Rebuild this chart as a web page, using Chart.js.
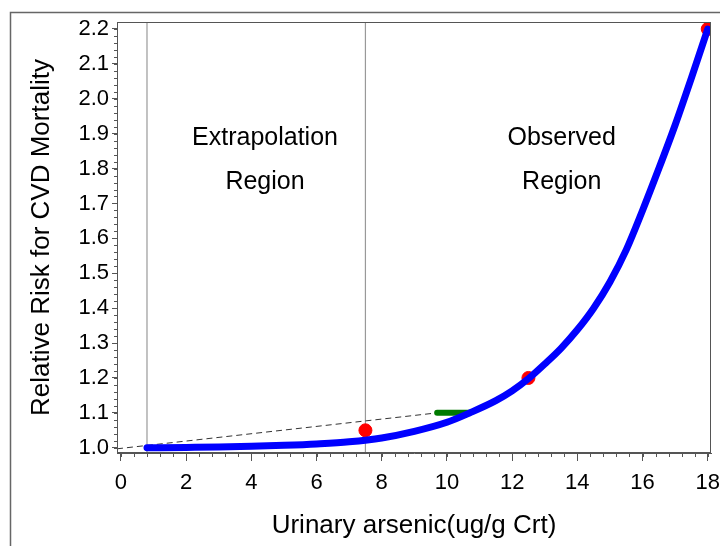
<!DOCTYPE html>
<html>
<head>
<meta charset="utf-8">
<script src="https://cdn.jsdelivr.net/npm/chart.js@4/dist/chart.umd.min.js"></script>
<style>
  html, body { margin: 0; padding: 0; background: #fff; }
  canvas { display: block; }
</style>
</head>
<body>
<canvas id="chart" width="720" height="546"></canvas>
<script>
// Fitted relative risk curve
const curveX = [0.8, 2, 3, 4, 5, 6, 7, 8, 9, 10, 10.7, 11.5, 12, 12.5, 13, 13.5, 14, 14.5, 15, 15.5, 16, 16.5, 17, 17.5, 18];
const curveY = [1.0, 1.001, 1.002, 1.004, 1.007, 1.011, 1.017, 1.028, 1.047, 1.073, 1.1, 1.135, 1.163, 1.198, 1.24, 1.285, 1.338, 1.4, 1.475, 1.567, 1.68, 1.8, 1.925, 2.06, 2.2];

// Red points
const pointX = [7.5, 12.5, 18];
const pointY = [1.05, 1.2, 2.2];

// Linear extrapolation (dashed) and green segment
const dashX = [-0.12, 9.7];
const dashY = [0.997, 1.1];
const segX = [9.7, 10.7];
const segY = [1.1, 1.1];

// Region boundaries
const regionX = [0.8, 7.5];

// Axes
const xMin = -0.12, xMax = 18.1;
const yMin = 0.985, yMax = 2.22;
const xTicks = [0, 2, 4, 6, 8, 10, 12, 14, 16, 18];
const xTickLabels = ['0', '2', '4', '6', '8', '10', '12', '14', '16', '18'];
const yTicks = [1.0, 1.1, 1.2, 1.3, 1.4, 1.5, 1.6, 1.7, 1.8, 1.9, 2.0, 2.1, 2.2];
const yTickLabels = ['1.0', '1.1', '1.2', '1.3', '1.4', '1.5', '1.6', '1.7', '1.8', '1.9', '2.0', '2.1', '2.2'];

const regionLabels = [
    { text: 'Extrapolation', x: 4.42, y: 1.887 },
    { text: 'Region', x: 4.42, y: 1.761 },
    { text: 'Observed', x: 13.52, y: 1.887 },
    { text: 'Region', x: 13.52, y: 1.761 }
];

const FONT = '"Liberation Sans", Arial, Helvetica, sans-serif';
const toPts = (xs, ys) => xs.map((x, i) => ({ x: x, y: ys[i] }));

const framePlugin = {
    id: 'frame',
    beforeDraw(chart) {
        const ctx = chart.ctx;
        ctx.save();
        ctx.fillStyle = '#fff';
        ctx.fillRect(0, 0, chart.width, chart.height);
        // outer frame (runs off the right and bottom edges)
        ctx.strokeStyle = '#666';
        ctx.lineWidth = 1.5;
        ctx.beginPath();
        ctx.moveTo(10.5, chart.height);
        ctx.lineTo(10.5, 12.5);
        ctx.lineTo(chart.width, 12.5);
        ctx.stroke();
        ctx.restore();
    },
    afterDraw(chart) {
        const { ctx, chartArea: a, scales: { x, y } } = chart;
        ctx.save();
        // plot box
        ctx.strokeStyle = '#555';
        ctx.lineWidth = 1;
        ctx.strokeRect(a.left + 0.5, a.top + 0.5, a.right - a.left - 1, a.bottom - a.top - 1);
        // minor ticks
        ctx.beginPath();
        for (let v = 0; v <= 18.001; v += 0.4) {
            const px = Math.round(x.getPixelForValue(v)) + 0.5;
            ctx.moveTo(px, a.bottom);
            ctx.lineTo(px, a.bottom + 4);
        }
        for (let v = 1.0; v <= 2.2001; v += 0.02) {
            const py = Math.round(y.getPixelForValue(v)) + 0.5;
            ctx.moveTo(a.left, py);
            ctx.lineTo(a.left - 3, py);
        }
        ctx.stroke();
        // region labels
        ctx.fillStyle = '#000';
        ctx.font = '25px ' + FONT;
        ctx.textAlign = 'center';
        ctx.textBaseline = 'middle';
        regionLabels.forEach(l => {
            ctx.fillText(l.text, x.getPixelForValue(l.x), y.getPixelForValue(l.y));
        });
        ctx.restore();
    }
};

new Chart(document.getElementById('chart'), {
    type: 'scatter',
    data: {
        datasets: [
            {
                data: toPts(curveX, curveY),
                showLine: true,
                borderColor: '#0000ff',
                borderWidth: 7,
                borderCapStyle: 'round',
                cubicInterpolationMode: 'monotone',
                pointRadius: 0,
                order: 1
            },
            {
                data: toPts(segX, segY),
                showLine: true,
                borderColor: '#007a00',
                borderWidth: 6,
                borderCapStyle: 'round',
                pointRadius: 0,
                order: 2
            },
            {
                data: toPts(pointX, pointY),
                showLine: false,
                pointRadius: 6.5,
                pointBackgroundColor: '#ff0000',
                pointBorderColor: '#ff0000',
                order: 3
            },
            {
                data: toPts(dashX, dashY),
                showLine: true,
                borderColor: '#333',
                borderWidth: 1,
                borderDash: [6, 4],
                pointRadius: 0,
                order: 4
            },
            ...regionX.map(rx => ({
                data: [{ x: rx, y: yMin }, { x: rx, y: yMax }],
                showLine: true,
                borderColor: '#999',
                borderWidth: 1.2,
                pointRadius: 0,
                order: 5
            }))
        ]
    },
    options: {
        responsive: false,
        animation: false,
        layout: { padding: { left: 0, top: 22, right: 9, bottom: 0 } },
        plugins: {
            legend: { display: false },
            tooltip: { enabled: false }
        },
        scales: {
            x: {
                type: 'linear',
                min: xMin,
                max: xMax,
                afterBuildTicks: s => { s.ticks = xTicks.map(v => ({ value: v })); },
                afterFit: s => { s.height = 93; s.paddingLeft = 0; s.paddingRight = 0; },
                grid: { drawOnChartArea: false, tickLength: 8, tickColor: '#555', color: '#555' },
                border: { color: '#555', width: 1 },
                ticks: {
                    color: '#000',
                    padding: 9,
                    maxRotation: 0,
                    font: { family: FONT, size: 22 },
                    callback: (v, i) => xTickLabels[i]
                },
                title: {
                    display: true,
                    text: 'Urinary arsenic(ug/g Crt)',
                    color: '#000',
                    font: { family: FONT, size: 26 },
                    padding: { top: 0, bottom: 5 }
                }
            },
            y: {
                type: 'linear',
                min: yMin,
                max: yMax,
                afterBuildTicks: s => { s.ticks = yTicks.map(v => ({ value: v })); },
                afterFit: s => { s.width = 117; s.paddingTop = 0; s.paddingBottom = 0; },
                grid: { drawOnChartArea: false, tickLength: 5, tickColor: '#555', color: '#555' },
                border: { color: '#555', width: 1 },
                ticks: {
                    color: '#000',
                    padding: 3,
                    font: { family: FONT, size: 22 },
                    callback: (v, i) => yTickLabels[i]
                },
                title: {
                    display: true,
                    text: 'Relative Risk for CVD Mortality',
                    color: '#000',
                    font: { family: FONT, size: 26 },
                    padding: { top: 26, bottom: 0 }
                }
            }
        }
    },
    plugins: [framePlugin]
});
</script>
</body>
</html>
